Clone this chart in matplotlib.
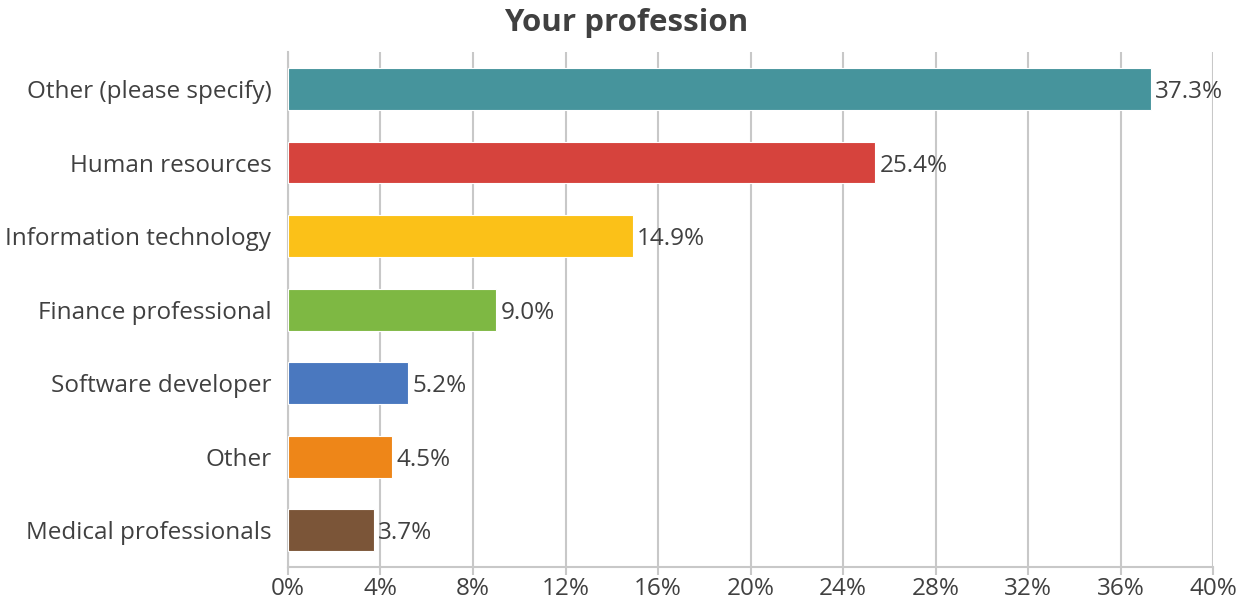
import matplotlib
matplotlib.use("Agg")
import matplotlib.pyplot as plt
from matplotlib.ticker import MultipleLocator, FuncFormatter

categories = ["Other (please specify)", "Human resources", "Information technology",
              "Finance professional", "Software developer", "Other", "Medical professionals"]
values = [37.3, 25.4, 14.9, 9.0, 5.2, 4.5, 3.7]
colors = ["#46949C", "#D6433D", "#FBC118", "#7EB843", "#4A78BF", "#EE8618", "#7B5538"]

plt.rcParams['font.family'] = ['Open Sans', 'DejaVu Sans']
text_col = "#404040"
grid_col = "#C8C8C8"

fig = plt.figure(figsize=(12.52, 6.07), dpi=100)
ax = fig.add_axes([0.230, 0.066, 0.739, 0.848])

ypos = list(range(len(categories)))[::-1]
ax.barh(ypos, values, height=0.57, color=colors, edgecolor="white", linewidth=0.8, zorder=3)
for y, v in zip(ypos, values):
    ax.text(v + 0.2, y, f"{v:.1f}%", va="center_baseline", ha="left",
            fontsize=17.5, color=text_col)

ax.set_xlim(0, 40)
ax.set_ylim(-0.5, len(categories) - 0.5)
ax.xaxis.set_major_locator(MultipleLocator(4))
ax.xaxis.set_major_formatter(FuncFormatter(lambda x, p: f"{x:.0f}%"))
ax.set_yticks(ypos)
ax.set_yticklabels(categories, va="center_baseline")
ax.grid(axis="x", color=grid_col, linewidth=1.5, zorder=0)

for s in ["top", "right"]:
    ax.spines[s].set_visible(False)
ax.spines["left"].set_color(grid_col)
ax.spines["left"].set_linewidth(1.5)
ax.spines["bottom"].set_color(grid_col)
ax.spines["bottom"].set_linewidth(1.5)
ax.tick_params(axis="x", colors=grid_col, labelcolor=text_col, labelsize=17.5,
               length=6, width=1.5, pad=1)
ax.tick_params(axis="y", length=0, labelcolor=text_col, labelsize=17.5, pad=12)

fig.text(0.5, 0.962, "Your profession", ha="center", va="center",
         fontsize=22.5, fontweight="bold", color=text_col)

fig.savefig("out.png", dpi=100, facecolor="white")
